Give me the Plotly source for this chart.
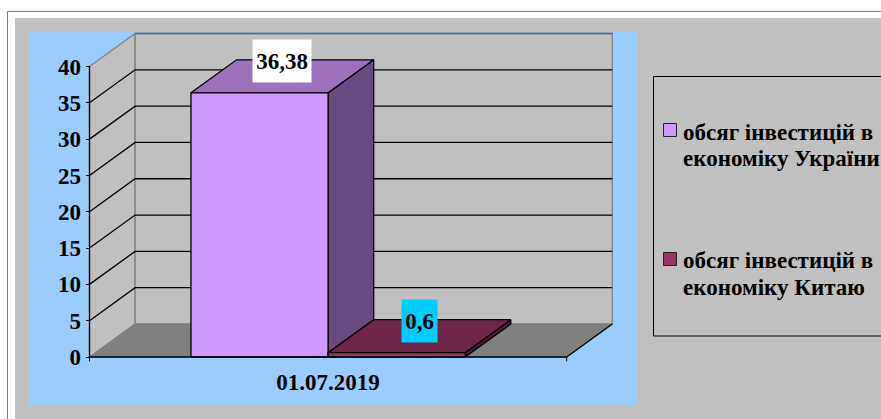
import plotly.graph_objects as go

# --- data ---
categories = ["01.07.2019"]
series_names = ["обсяг інвестицій в<br>економіку України", "обсяг інвестицій в<br>економіку Китаю"]
ukraine_values = [36.38]
china_values = [0.6]
value_labels = ["36,38", "0,6"]
y_ticks = [0, 5, 10, 15, 20, 25, 30, 35, 40]

# --- styles ---
W, H = 881, 419
FONT = "Liberation Serif"
GRAY, DARK, BLUE = "#C0C0C0", "#808080", "#99CCFF"
FACE = [("#CC99FF", "#9C72BD", "#664C80"), ("#993366", "#702649", "#4D1A33")]
LABEL_BG = ["#FFFFFF", "#00CCFF"]
PX_X0, PX_X1, PX_Y0, PX_Y40 = 89.5, 566.7, 357.0, 66.5
PX_DX, PX_DY = 45.6, 33.0
GAP = 1.48

ux = PX_X1 - PX_X0
uy = (PX_Y0 - PX_Y40) / 40
DX, DZ = PX_DX / ux, PX_DY / uy
xr = [-PX_X0 / ux, (W - PX_X0) / ux]
yr = [(PX_Y0 - H) / uy, PX_Y0 / uy]
px = lambda v: v / W
py = lambda v: 1 - v / H


def rect(x0, y0, x1, y1, fill=None, line=None, lw=1):
    return dict(type="rect", xref="paper", yref="paper", layer="below",
                x0=px(x0), x1=px(x1), y0=py(y0), y1=py(y1),
                fillcolor=fill or "rgba(0,0,0,0)",
                line=dict(color=line or "rgba(0,0,0,0)", width=lw if line else 0))


fig = go.Figure()


def poly(xs, ys, fill=None, line="black", lw=1.3):
    fig.add_trace(go.Scatter(
        x=xs, y=ys, mode="lines", showlegend=False, hoverinfo="skip",
        fill="toself" if fill else "none", fillcolor=fill,
        line=dict(color=line, width=lw)))


top = y_ticks[-1]
# walls and floor
poly([0, DX, DX, 0, 0], [0, DZ, top + DZ, top, 0], GRAY, DARK, 1.3)
poly([DX, 1 + DX, 1 + DX, DX, DX], [DZ, DZ, top + DZ, top + DZ, DZ], GRAY, DARK, 1.3)
poly([DX, 1 + DX], [top + DZ, top + DZ], None, "#666666", 1.5)
# gridlines
for t in y_ticks[1:-1]:
    poly([0, DX, 1 + DX], [t, t + DZ, t + DZ], None, "black", 1.3)
poly([0, 1, 1 + DX, DX, 0], [0, 0, DZ, DZ, 0], DARK, DARK, 1)
poly([1, 1 + DX], [0, DZ], None, "black", 1.3)

# bars
bar_w = 1 / (2 + GAP)
start = GAP * bar_w / 2
series_values = [ukraine_values[0], china_values[0]]
for i, v in enumerate(series_values):
    l, r = start + i * bar_w, start + (i + 1) * bar_w
    front, top_c, side = FACE[i]
    poly([r, r + DX, r + DX, r, r], [0, DZ, v + DZ, v, 0], side)
    poly([l, l + DX, r + DX, r, l], [v, v + DZ, v + DZ, v, v], top_c)
    poly([l, r, r, l, l], [0, 0, v, v, 0], front)

# axis lines and end ticks
poly([0, 0], [0, top], None, "black", 1.3)
poly([0, 1], [0, 0], None, "black", 1.7)
poly([1, 1], [0, -0.6], None, "black", 1)
poly([0, 0], [0, -0.6], None, "black", 1)

annotations = []
for i, v in enumerate(series_values):
    l = start + i * bar_w
    annotations.append(dict(
        x=l + bar_w / 2 + DX / 2, y=v + DZ, xref="x", yref="y", yshift=-1,
        text=value_labels[i], showarrow=False, bgcolor=LABEL_BG[i],
        width=[58, 35][i], height=42, borderpad=0, valign="middle", align="center",
        font=dict(family=FONT, size=23, color="black", weight=700)))
for name, ys in zip(series_names, [(132, 158), (260, 287)]):
    for line, ty in zip(name.split("<br>"), ys):
        annotations.append(dict(
            x=px(681), y=py(ty), xref="paper", yref="paper", xanchor="left", yanchor="middle",
            text=line, showarrow=False, align="left",
            font=dict(family=FONT, size=23, color="black", weight=700)))

shapes = [
    rect(7.5, 11.5, W + 5, H + 5, "#FFFFFF", DARK, 1),
    rect(15, 18, W + 5, H + 5, GRAY),
    rect(29, 32, 638, 406, BLUE),
    rect(653.5, 76.5, W + 5, 336, None, "black", 1),
]
for (k, ky) in zip(FACE, [123.5, 252.5]):
    s = rect(663.5, ky, 676.5, ky + 13, k[0], "#222222", 1)
    s["layer"] = "above"
    shapes.append(s)

fig.update_layout(
    width=W, height=H, margin=dict(l=0, r=0, t=0, b=0), autosize=False,
    paper_bgcolor="white", plot_bgcolor="rgba(0,0,0,0)", showlegend=False,
    shapes=shapes, annotations=annotations,
    xaxis=dict(range=xr, anchor="free", position=py(PX_Y0), showgrid=False, zeroline=False,
               tickmode="array", tickvals=[0.5], ticktext=categories, ticks="outside",
               ticklen=4, tickcolor="rgba(0,0,0,0)", showline=False,
               tickfont=dict(family=FONT, size=23, color="black", weight=700)),
    yaxis=dict(range=yr, anchor="free", position=px(PX_X0), showgrid=False, zeroline=False,
               tickmode="array", tickvals=y_ticks, ticks="outside", ticklen=4, tickwidth=1.3,
               tickcolor="black", showline=False,
               tickfont=dict(family=FONT, size=23, color="black", weight=700)),
)
fig.write_html("out.html", config=dict(displayModeBar=False),
               post_script="document.body.style.margin='0';")
